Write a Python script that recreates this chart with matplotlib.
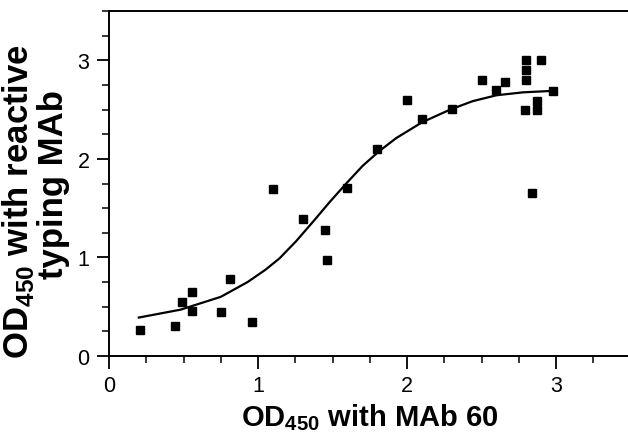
import matplotlib
matplotlib.use('Agg')
import matplotlib.pyplot as plt
from matplotlib.ticker import MultipleLocator

plt.rcParams['font.family'] = 'Liberation Sans'
plt.rcParams['mathtext.fontset'] = 'custom'
plt.rcParams['mathtext.rm'] = 'Liberation Sans'
plt.rcParams['mathtext.bf'] = 'Liberation Sans:bold'

# measured points
od_mab60 = [0.21, 0.44, 0.49, 0.56, 0.56, 0.75, 0.81, 0.96, 1.10, 1.30, 1.45, 1.46,
            1.60, 1.80, 2.00, 2.10, 2.30, 2.50, 2.60, 2.66, 2.80, 2.80, 2.80, 2.79,
            2.87, 2.87, 2.90, 2.84, 2.98]
od_typing = [0.26, 0.30, 0.55, 0.65, 0.46, 0.45, 0.78, 0.35, 1.69, 1.39, 1.28, 0.97,
             1.70, 2.10, 2.60, 2.40, 2.51, 2.80, 2.70, 2.78, 3.00, 2.90, 2.80, 2.50,
             2.59, 2.50, 3.00, 1.65, 2.69]

# fitted curve
fit_x = [0.20, 0.48, 0.75, 0.93, 1.05, 1.144, 1.256, 1.368, 1.48, 1.592, 1.703,
         1.815, 1.927, 2.10, 2.29, 2.44, 2.60, 2.78, 2.98]
fit_y = [0.39, 0.47, 0.60, 0.75, 0.875, 0.99, 1.165, 1.36, 1.56, 1.75, 1.93,
         2.08, 2.21, 2.37, 2.50, 2.585, 2.645, 2.675, 2.69]

W, H = 628, 435
fig = plt.figure(figsize=(W / 100, H / 100), dpi=100)
ax = fig.add_axes([109 / W, (H - 357) / H, (W - 109) / W, 345 / H])

ax.plot(fit_x, fit_y, color='black', lw=1.6)
ax.plot(od_mab60, od_typing, 's', color='black', ms=6.3, ls='none')

ax.set_xlim(0, (W - 109) / 149)
ax.set_ylim(0, 3.5)
ax.xaxis.set_major_locator(MultipleLocator(1))
ax.xaxis.set_minor_locator(MultipleLocator(0.25))
ax.yaxis.set_major_locator(MultipleLocator(1))
ax.yaxis.set_minor_locator(MultipleLocator(0.25))
ax.tick_params(which='major', direction='out', length=9, width=1.3, labelsize=15.5, pad=5)
ax.tick_params(which='minor', direction='out', length=5, width=1.1)
ax.spines['right'].set_visible(False)
for s in ['left', 'bottom', 'top']:
    ax.spines[s].set_linewidth(1.4)

# axis titles
fig.text(370 / W, (H - 426.7) / H, r'OD$_{\mathbf{450}}$ with MAb 60',
         fontsize=21, fontweight='bold', ha='center', va='baseline')
fig.text(28 / W, (H - 201) / H, r'OD$_{\mathbf{450}}$ with reactive',
         fontsize=25, fontweight='bold', rotation=90, rotation_mode='anchor',
         ha='center', va='baseline')
fig.text(63 / W, (H - 185) / H, 'typing MAb',
         fontsize=25, fontweight='bold', rotation=90, rotation_mode='anchor',
         ha='center', va='baseline')

fig.savefig('out.png', dpi=100)
